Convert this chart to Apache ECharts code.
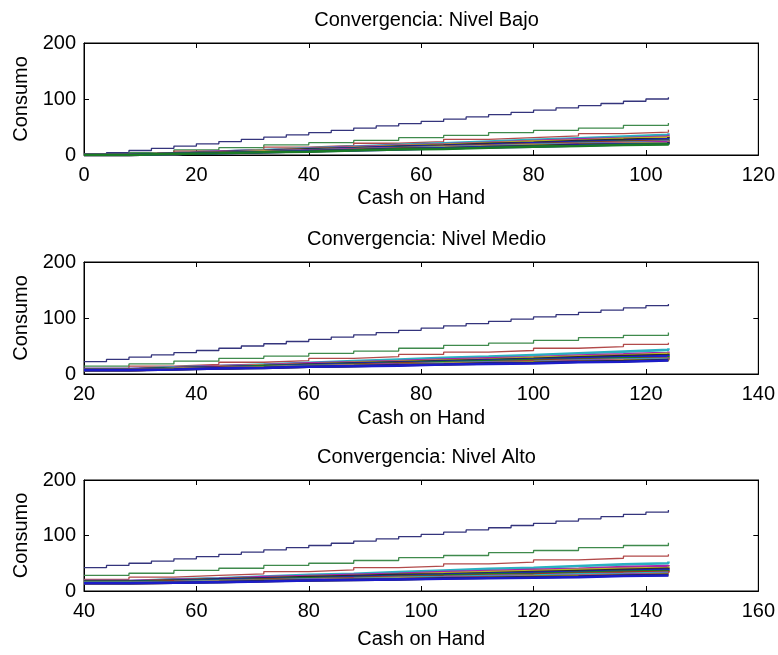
<!DOCTYPE html>
<html>
<head>
<meta charset="utf-8">
<script src="https://cdn.jsdelivr.net/npm/echarts@6/dist/echarts.min.js"></script>
<style>
  html, body { margin: 0; padding: 0; background: #fff; }
  #chart { width: 778px; height: 655px; }
</style>
</head>
<body>
<div id="chart"></div>
<script>
// ---------- DATA ----------
const titles = ["Convergencia: Nivel Bajo", "Convergencia: Nivel Medio", "Convergencia: Nivel Alto"];
const xLabel = "Cash on Hand";
const yLabel = "Consumo";
const xRanges = [[0, 120], [20, 140], [40, 160]];
const yTicks = [0, 100, 200];

// Panel 1 (Nivel Bajo)
const p1_cashFine = [0,4,8,12,16,20,24,28,32,36,40,44,48,52,56,60,64,68,72,76,80,84,88,92,96,100,104];
const p1_iter1 = [0,4,8,12,16,20,24,28,32,36,40,44,48,52,56,60,64,68,72,76,80,84,88,92,96,100,103];
const p1_cash = [0,8,16,24,32,40,48,56,64,72,80,88,96,104];
const p1_iters = [
  [0,4,9,13,18,22,26,31,35,40,44,48,53,57],
  [0,3,7,10,14,17,21,24,28,31,34,38,41,45],
  [0,3,6,9,12,15,18,21,24,27,30,33,36,39],
  [0,3,6,8,11,14,17,19,22,25,28,30,33,36],
  [0,3,5,8,10,13,16,18,21,24,26,29,31,34],
  [0,2,5,7,10,12,15,17,20,22,25,27,30,32],
  [0,2,5,7,9,12,14,16,18,21,23,25,28,30],
  [0,2,4,6,9,11,13,15,17,19,22,24,26,28],
  [0,2,4,6,8,10,12,15,17,19,21,23,25,27],
  [0,2,4,6,8,10,12,14,16,18,20,22,24,26],
  [0,2,4,6,8,10,12,13,15,17,19,21,23,25],
  [0,2,4,6,7,9,11,13,15,17,18,20,22,24],
  [0,2,4,5,7,9,11,12,14,16,18,19,21,23],
  [0,2,3,5,7,8,10,12,14,15,17,19,20,22],
  [0,2,3,5,6,8,10,11,13,15,16,18,19,21]
];

// Panel 2 (Nivel Medio)
const p2_cashFine = [20,24,28,32,36,40,44,48,52,56,60,64,68,72,76,80,84,88,92,96,100,104,108,112,116,120,124];
const p2_iter1 = [22,26,30,34,38,42,46,50,54,58,62,66,70,74,78,82,86,90,94,98,102,106,110,114,118,122,125];
const p2_cash = [20,28,36,44,52,60,68,76,84,92,100,108,116,124];
const p2_iters = [
  [14,18,23,28,32,37,41,46,51,55,60,65,69,74],
  [10,14,17,21,24,28,31,35,39,42,46,49,53,56],
  [9,12,14,17,20,23,26,29,31,34,37,40,43,46],
  [9,11,14,16,19,21,23,26,28,30,33,35,38,40],
  [8,10,13,15,17,20,22,24,26,29,31,33,36,38],
  [8,10,12,14,17,19,21,23,25,27,30,32,34,36],
  [8,10,12,14,16,18,20,22,24,26,28,30,32,34],
  [8,10,11,14,15,17,19,21,23,25,26,28,30,32],
  [7,9,11,12,14,16,18,19,21,23,25,26,28,30],
  [7,9,10,12,14,15,17,19,21,22,24,26,27,29],
  [7,9,10,12,13,15,17,18,20,21,23,25,26,28],
  [7,9,10,12,13,15,16,18,19,21,22,24,25,27],
  [7,8,10,11,13,14,16,17,19,20,22,23,25,26],
  [7,8,10,11,13,14,15,17,18,19,21,22,24,25]
];

// Panel 3 (Nivel Alto)
const p3_cashFine = [40,44,48,52,56,60,64,68,72,76,80,84,88,92,96,100,104,108,112,116,120,124,128,132,136,140,144];
const p3_iter1 = [42,46,50,54,58,62,66,70,74,78,82,86,90,94,98,102,106,110,114,118,122,126,130,134,138,142,146];
const p3_cash = [40,48,56,64,72,80,88,96,104,112,120,128,136,144];
const p3_iters = [
  [28,32,37,41,46,50,55,60,64,69,73,78,82,87],
  [21,25,28,31,35,38,42,45,49,52,56,59,63,66],
  [18,21,23,26,29,31,34,37,40,42,45,48,50,53],
  [18,20,22,25,27,29,31,34,36,38,40,43,45,47],
  [17,19,21,23,25,27,29,32,34,36,38,40,42,44],
  [17,19,21,23,25,27,29,30,32,34,36,38,40,42],
  [16,18,20,22,23,25,27,29,31,33,34,36,38,40],
  [16,18,19,21,23,24,26,28,30,31,33,35,36,38],
  [15,17,18,20,21,23,25,26,28,29,31,33,34,36],
  [15,16,18,19,21,22,24,25,27,28,30,31,33,34],
  [14,15,17,18,20,21,22,24,25,26,28,29,31,32],
  [14,15,17,18,19,21,22,23,24,26,27,28,30,31],
  [14,15,16,18,19,20,21,23,24,25,26,28,29,30],
  [14,15,16,17,19,20,21,22,23,24,25,27,28,29]
];

// colour cycle (MATLAB order b, g, r, c, m, y, k)
const firstColors = ["#34347c", "#3f8a4c", "#b24a4a"];
const cycleColors = ["#1c1cc8", "#1a7a26", "#c81e1e", "#2ab0c0", "#a824a8", "#bcb424", "#2a2a2a"];

// ---------- BUILD ----------
const panels = [
  { fineX: p1_cashFine, first: p1_iter1, x: p1_cash, iters: p1_iters },
  { fineX: p2_cashFine, first: p2_iter1, x: p2_cash, iters: p2_iters },
  { fineX: p3_cashFine, first: p3_iter1, x: p3_cash, iters: p3_iters }
];

const FONT = "'Liberation Sans', Arial, sans-serif";
const FS = 20;
const gridTops = [43, 262, 480];
const gridH = [112, 112, 111];
const plotLeft = 84, plotRight = 19;
const centerX = 84 + (778 - 84 - 19) / 2;
const titleTops = [5, 224, 442];
const xNameGaps = [33, 34, 38];

const grids = [], xAxes = [], yAxes = [], series = [], titleArr = [];
const axisLineStyle = { show: true, onZero: false, lineStyle: { color: "#000", width: 1 } };
const tickStyle = { show: true, inside: true, length: 5, lineStyle: { color: "#000", width: 1 } };

panels.forEach((p, k) => {
  grids.push({
    left: plotLeft, right: plotRight, top: gridTops[k], height: gridH[k], containLabel: false,
    show: true, borderColor: "#000", borderWidth: 1, backgroundColor: "transparent"
  });
  titleArr.push({
    text: titles[k], left: centerX, top: titleTops[k], textAlign: "center",
    textStyle: { fontFamily: FONT, fontSize: FS, fontWeight: "normal", color: "#000" }
  });
  // bottom x
  xAxes.push({
    type: "value", gridIndex: k, position: "bottom", min: xRanges[k][0], max: xRanges[k][1], interval: 20,
    axisLine: axisLineStyle, axisTick: tickStyle, splitLine: { show: false },
    axisLabel: { fontFamily: FONT, fontSize: FS, color: "#000", margin: 10, showMinLabel: true, showMaxLabel: true },
    name: xLabel, nameLocation: "middle", nameGap: xNameGaps[k],
    nameTextStyle: { fontFamily: FONT, fontSize: FS, color: "#000" }
  });
  // top x (box + ticks)
  xAxes.push({
    type: "value", gridIndex: k, position: "top", min: xRanges[k][0], max: xRanges[k][1], interval: 20,
    axisLine: axisLineStyle, axisTick: tickStyle, splitLine: { show: false }, axisLabel: { show: false }
  });
  // left y
  yAxes.push({
    type: "value", gridIndex: k, position: "left", min: yTicks[0], max: yTicks[yTicks.length - 1], interval: 100,
    axisLine: axisLineStyle, axisTick: tickStyle, splitLine: { show: false },
    axisLabel: { fontFamily: FONT, fontSize: FS, color: "#000", margin: 8, showMinLabel: true, showMaxLabel: true },
    name: yLabel, nameLocation: "middle", nameGap: 48,
    nameTextStyle: { fontFamily: FONT, fontSize: FS, color: "#000" }
  });
  // right y
  yAxes.push({
    type: "value", gridIndex: k, position: "right", min: yTicks[0], max: yTicks[yTicks.length - 1], interval: 100,
    axisLine: axisLineStyle, axisTick: tickStyle, splitLine: { show: false }, axisLabel: { show: false }
  });

  const xi = k * 2, yi = k * 2;
  const all = [{ x: p.fineX, y: p.first }].concat(p.iters.map(v => ({ x: p.x, y: v })));
  all.forEach((s, j) => {
    series.push({
      type: "line", xAxisIndex: xi, yAxisIndex: yi, step: "end", showSymbol: false, symbol: "none",
      silent: true, animation: false, z: 2 + j,
      lineStyle: { width: j < 3 ? 1.3 : 2.6, color: j < 3 ? firstColors[j] : cycleColors[j % cycleColors.length] },
      data: s.x.map((xv, i) => [xv, s.y[i]])
    });
  });
});

const chart = echarts.init(document.getElementById("chart"), null, { renderer: "canvas" });
chart.setOption({
  backgroundColor: "#fff",
  animation: false,
  title: titleArr,
  grid: grids,
  xAxis: xAxes,
  yAxis: yAxes,
  series: series
});
</script>
</body>
</html>
